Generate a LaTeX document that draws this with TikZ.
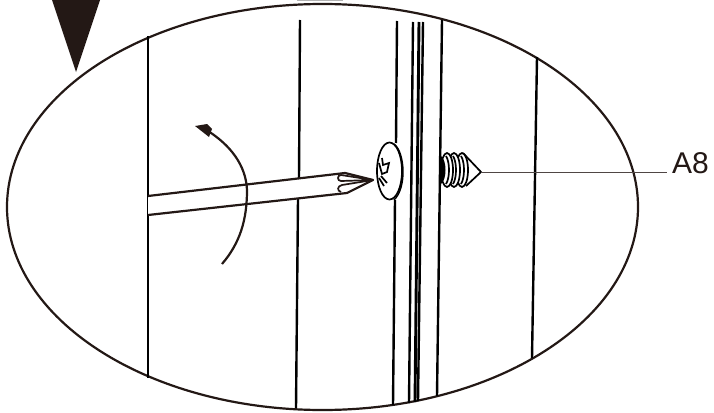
\documentclass[tikz,border=0pt]{standalone}
\usepackage{fontspec}
\setmainfont{Liberation Sans}
\usepackage{xcolor}
\definecolor{inkdark}{HTML}{231815}
\usetikzlibrary{shapes.geometric, positioning, calc}
\tikzset{
    panel/.style={draw=black, line width=2.4pt},
    outline/.style={draw=inkdark, line width=2.2pt},
    thread/.style={draw=black, line width=1.7pt},
}

\begin{document}
\begin{tikzpicture}[x=1pt, y=-1pt]
    \useasboundingbox (0,0) rectangle (714,412);

    % ===================================================
    % 1. DOWN MARKER AND VIEW OUTLINE
    % ===================================================
    \fill[inkdark] (52,0) -- (100,0) -- (76,72) -- cycle;
    \draw[gray!60, line width=0.6pt] (297,0.3) -- (343,0.3);
    \node[outline, ellipse, minimum width=631pt, minimum height=406pt, inner sep=0pt, outer sep=0pt] (view) at (322.5,207) {};

    % ===================================================
    % 2. PANEL EDGES
    % ===================================================
    \draw[panel] (148,36) -- (148,378);
    \draw[panel] (300,20) -- (299,178);
    \draw[panel] (298,199) -- (296,408);
    \draw[panel] (397,21) -- (396,143);
    \draw[panel] (395,200) -- (393,405);
    \draw[panel] (413,22) -- (409,403);
    \draw[panel, line width=2.9pt] (419,22) -- (415,402);
    \draw[panel] (423,22) -- (418,401);
    \draw[panel] (442,20) -- (437,396);
    \draw[panel] (537,57) -- (532,358);

    % ===================================================
    % 3. SCREWDRIVER AND TURN ARROW
    % ===================================================
    \coordinate (driverTip) at (373,180);
    \draw[outline, fill=white, line join=round] (148,196) -- (345,173) -- (driverTip) -- (347,193) -- (148,215);
    \draw[outline, line width=1.7pt] (driverTip) -- (341,175) .. controls (337,175) and (337,181) .. (341,181) -- (driverTip);
    \draw[outline, line width=1.7pt] (driverTip) -- (342,185) .. controls (337,186) and (337,191) .. (341,192);
    \draw[outline] (222,264) .. controls (240,243) and (247,220) .. (247,190)
        .. controls (246,165) and (230,145) .. (208,131);
    \fill[inkdark] (195,126) -- (207,124) -- (212,129) -- (209,137) -- cycle;

    % ===================================================
    % 4. SCREW HEAD (FRONT)
    % ===================================================
    \node[draw=black, fill=white, ellipse, line width=1.7pt, minimum width=25pt, minimum height=57pt, inner sep=0pt] (head) at (389.5,171) {};
    \draw[thread, line width=1.4pt] (394,144) .. controls (405,152) and (407,188) .. (394,200);
    \draw[thread] (382,158) -- (383,165) -- (389,163) -- (387,172) -- (382,174) -- (379,163);
    \draw[thread] (381,176) -- (387,183);
    \draw[thread] (379,178) -- (384,186);

    % ===================================================
    % 5. SCREW BODY (BACK) AND LABEL
    % ===================================================
    \coordinate (screwTip) at (481,172);
    \draw[thread, fill=white, line join=round] (463,153) -- (screwTip) -- (466,186);
    \foreach \tx in {462,454,447}{
        \draw[thread, fill=white] (\tx,170) ellipse (6 and 17);
        \draw[thread] (\tx-1,156) .. controls (\tx+3,162) and (\tx+3,178) .. (\tx-1,184);
    }
    \fill[black] (441,156) .. controls (447,160) and (447,180) .. (441,184) -- cycle;
    \node[anchor=base west, inner sep=0pt, font=\fontsize{30}{30}\selectfont, text=inkdark] (labelA) at (672,173) {A8};
    \coordinate (leaderEnd) at (667,172);
    \draw[inkdark!80, line width=1pt] (screwTip) -- (leaderEnd);
\end{tikzpicture}
\end{document}
